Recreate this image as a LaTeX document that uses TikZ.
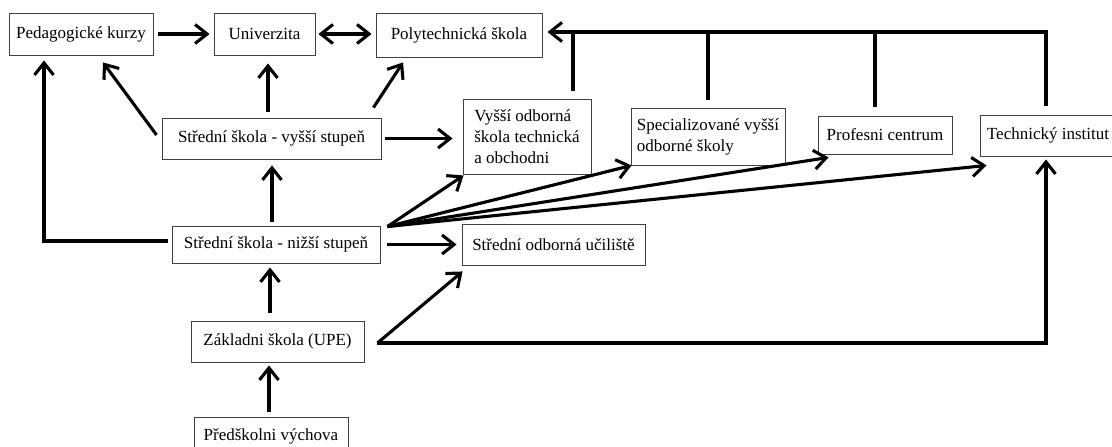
\documentclass[tikz,border=0pt]{standalone}
\usepackage{fontspec}
\setmainfont{Liberation Serif}
\usetikzlibrary{arrows.meta,calc}
\tikzset{
  box/.style={draw=black!75, line width=0.9pt, inner sep=0pt, font=\fontsize{17}{21}\selectfont, anchor=center},
  conn/.style={line width=3.1pt, black},
  tipA/.tip={Straight Barb[length=12pt,width=19pt]},
  arr/.style={conn, -tipA},
}
\begin{document}
\begin{tikzpicture}[x=1pt,y=-1pt]
\useasboundingbox (0,0) rectangle (1112,447);
\clip (0,0) rectangle (1112,447);
\fill[white] (0,0) rectangle (1112,447);
% nodes
\node[box, minimum width=144pt, minimum height=42pt] (ped) at (81,34) {Pedagogické kurzy};
\node[box, minimum width=101pt, minimum height=42pt] (univ) at (264.5,34) {Univerzita};
\node[box, minimum width=166pt, minimum height=44pt] (poly) at (459,35) {Polytechnická škola};
\node[box, minimum width=219pt, minimum height=41pt] (ssv) at (271.5,138.5) {Střední škola - vyšší stupeň};
\node[box, minimum width=128pt, minimum height=75pt, align=left] (vos) at (527,136.5) {Vyšší odborná\\škola technická\\a obchodni};
\node[box, minimum width=154pt, minimum height=57pt, align=left] (spec) at (708,136.5) {Specializované vyšší\\odborné školy};
\node[box, minimum width=134pt, minimum height=38pt] (prof) at (885,135) {Profesni centrum};
\node[box, minimum width=136pt, minimum height=41pt] (tech) at (1048,135.5) {Technický institut};
\node[box, minimum width=183pt, minimum height=41pt] (sou) at (553.5,244.5) {Střední odborná učiliště};
\node[box, minimum width=208pt, minimum height=37pt] (ssn) at (276,244.5) {Střední škola - nižší stupeň};
\node[box, minimum width=173pt, minimum height=41pt] (zs) at (277.5,341.5) {Základni škola (UPE)};
\node[box, minimum width=154pt, minimum height=38pt] (pred) at (271,436) {Předškolni výchova};
% helper coordinates
\coordinate (b1) at (573,32);
\coordinate (b2) at (708,32);
\coordinate (b3) at (875,32);
\coordinate (b4) at (1046,32);
\coordinate (c1) at (268,0);
\coordinate (c2) at (103,0);
\coordinate (c3) at (403,0);
\coordinate (c4) at (272,0);
\coordinate (c5) at (44,0);
\coordinate (c6) at (270,0);
\coordinate (c7) at (269,0);
% top row
\draw[arr, shorten <=5pt, shorten >=4pt] (ped.east) -- (univ.west);
\draw[conn, tipA-tipA, shorten <=3pt, shorten >=4pt] (univ.east) -- (poly.west |- univ.east);
% bus to polytechnic
\draw[arr, shorten >=5pt] ($(tech.north -| b4)+(0,-9)$) -- (b4) -- (poly.east |- b4);
\draw[conn] ($(vos.north -| b1)+(0,-8)$) -- (b1);
\draw[conn] ($(spec.north -| b2)+(0,-8)$) -- (b2);
\draw[conn] ($(prof.north -| b3)+(0,-9)$) -- (b3);
% from upper secondary
\draw[arr] ($(ssv.north -| c1)+(0,-6)$) -- ($(univ.south -| c1)+(0,8)$);
\draw[arr] ($(ssv.west)+(-5,-3.5)$) -- ($(ped.south -| c2)+(0,7)$);
\draw[arr] ($(ssv.north east)+(-8,-10)$) -- ($(poly.south -| c3)+(0,5)$);
\draw[arr, shorten <=4pt, shorten >=10pt] (ssv.east) -- (vos.west |- ssv.east);
% from lower secondary
\draw[arr] ($(ssn.north -| c4)+(0,-4)$) -- ($(ssv.south -| c4)+(0,6)$);
\draw[arr] ($(ssn.west)+(-4,-3.5)$) -| ($(ped.south -| c5)+(0,5)$);
\draw[arr, shorten <=7pt, shorten >=5pt] (ssn.east) -- (sou.west |- ssn.east);
\coordinate (F) at ($(ssn.north east)+(7,1)$);
\draw[arr] (F) -- ($(vos.south west)+(1,1)$);
\draw[arr] (F) -- ($(spec.south west)+(1,0)$);
\draw[arr] (F) -- ($(prof.south west)+(11,3)$);
\draw[arr] (F) -- ($(tech.south west)+(7,9)$);
% from basic school
\draw[arr] ($(zs.north -| c6)+(0,-8)$) -- ($(ssn.south -| c6)+(0,4)$);
\coordinate (Z) at ($(zs.east)+(13,1.5)$);
\draw[arr] (Z) -- ($(sou.south west)+(1,6)$);
\draw[arr] (Z) -| ($(tech.south -| b4)+(0,3)$);
% from preschool
\draw[arr] ($(pred.north -| c7)+(0,-5)$) -- ($(zs.south -| c7)+(0,3)$);
\end{tikzpicture}
\end{document}
